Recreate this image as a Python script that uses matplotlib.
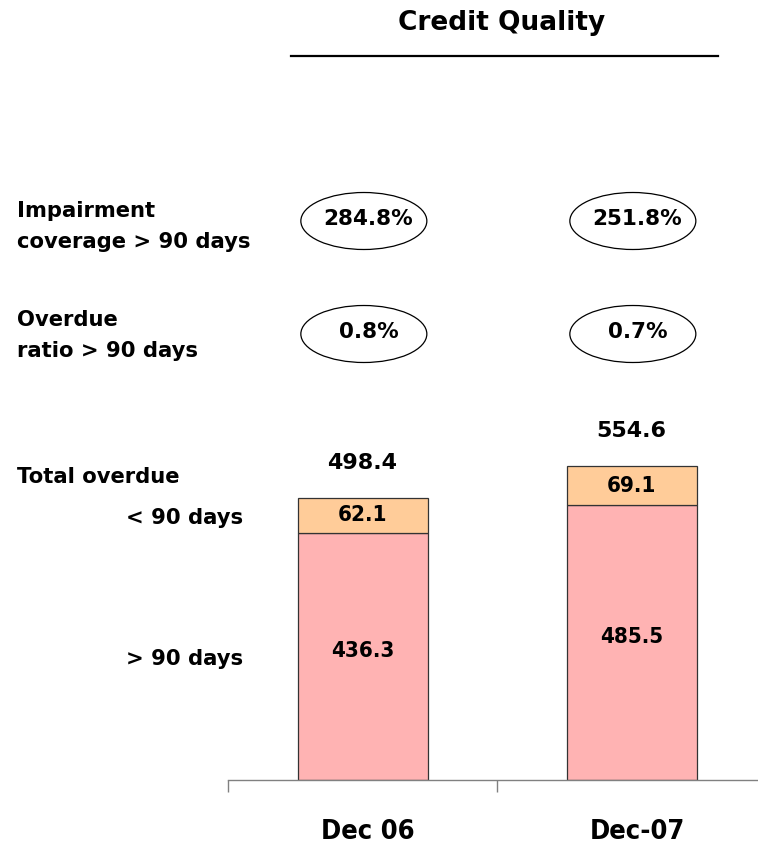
import matplotlib
matplotlib.use("Agg")
import matplotlib.pyplot as plt
from matplotlib.patches import Ellipse
from matplotlib.lines import Line2D
import matplotlib.transforms as mtransforms

# ---- data ----
categories = ["Dec 06", "Dec-07"]
over_90 = [436.3, 485.5]
under_90 = [62.1, 69.1]
totals = [498.4, 554.6]
impairment_coverage = ["284.8%", "251.8%"]
overdue_ratio = ["0.8%", "0.7%"]

W, H = 758, 849
plt.rcParams['font.family'] = ['DejaVu Sans']
fig = plt.figure(figsize=(W / 100, H / 100), dpi=100)

def fx(x):
    return x / W

def fy(y):
    return 1 - y / H

# axes: left 228px, bottom baseline at 780px, top at 100px
ax_left, ax_right, ax_base, ax_top = 228, 758, 780, 100
ax = fig.add_axes([fx(ax_left), fy(ax_base), (ax_right - ax_left) / W, (ax_base - ax_top) / H])
px_per_unit = 0.566
cat_px = 269.0

pink = "#FFB3B3"
orange = "#FFCC99"
edge = "#333333"
bar_w = 130 / cat_px
x = list(range(len(categories)))

ax.bar(x, over_90, width=bar_w, color=pink, edgecolor=edge, linewidth=0.9, zorder=2)
ax.bar(x, under_90, width=bar_w, bottom=over_90, color=orange, edgecolor=edge, linewidth=0.9, zorder=2)

for s in ["top", "left", "right"]:
    ax.spines[s].set_visible(False)
ax.spines["bottom"].set_color("#808080")
ax.spines["bottom"].set_linewidth(1.0)
ax.set_yticks([])
ax.set_xticks([-0.5, 0.5, 1.5])
ax.set_xticklabels([])
ax.tick_params(axis="x", direction="out", length=8.6, width=1.0, color="#808080")
ax.set_ylim(0, (ax_base - ax_top) / px_per_unit)
ax.set_xlim(-0.5, -0.5 + (ax_right - ax_left) / cat_px)

cond = dict(fontweight="bold", fontstretch="condensed", color="black")

blend = mtransforms.blended_transform_factory(ax.transData, fig.transFigure)

for i in x:
    # inside labels
    ax.annotate(f"{over_90[i]:.1f}", (i, over_90[i] / 2), xytext=(0, 4), textcoords="offset points",
                ha="center", va="center", fontsize=16, **cond)
    ax.annotate(f"{under_90[i]:.1f}", (i, over_90[i] + under_90[i] / 2), xytext=(0, 0), textcoords="offset points",
                ha="center", va="center", fontsize=16, **cond)
    ax.annotate(f"{totals[i]:.1f}", (i, totals[i]), xytext=(0, 25), textcoords="offset points",
                ha="center", va="center", fontsize=16, fontweight="bold")
    ax.text(i + 0.02, fy(832), categories[i], transform=blend,
            ha="center", va="center", fontsize=19.5, clip_on=False, **cond)

# ellipses
ell_w = 126 / cat_px
ell_h = 57 / H
for i in x:
    for yc, txt in [(221, impairment_coverage[i]), (334, overdue_ratio[i])]:
        e = Ellipse((i + 0.005, fy(yc)), ell_w, ell_h, transform=blend, fill=False,
                    edgecolor="black", linewidth=0.9, clip_on=False)
        fig.add_artist(e)
        ax.text(i + 0.022, fy(yc - 2), txt, transform=blend, ha="center", va="center",
                fontsize=15.5, fontweight="bold", clip_on=False)

# title
fig.text(fx(502), fy(23), "Credit Quality", ha="center", va="center", fontsize=19, fontweight="bold")
fig.add_artist(Line2D([fx(291), fx(718)], [fy(56), fy(56)], transform=fig.transFigure, color="black", linewidth=1.6))

# left labels
lab = dict(fontsize=15.2, fontweight="bold", va="baseline")
fig.text(fx(17), fy(217), "Impairment", ha="left", **lab)
fig.text(fx(17), fy(248), "coverage > 90 days", ha="left", **lab)
fig.text(fx(17), fy(326), "Overdue", ha="left", **lab)
fig.text(fx(17), fy(357), "ratio > 90 days", ha="left", **lab)
fig.text(fx(17), fy(483), "Total overdue", ha="left", **lab)
fig.text(fx(243), fy(524), "< 90 days", ha="right", **lab)
fig.text(fx(243), fy(665), "> 90 days", ha="right", **lab)

fig.savefig("out.png", dpi=100)
